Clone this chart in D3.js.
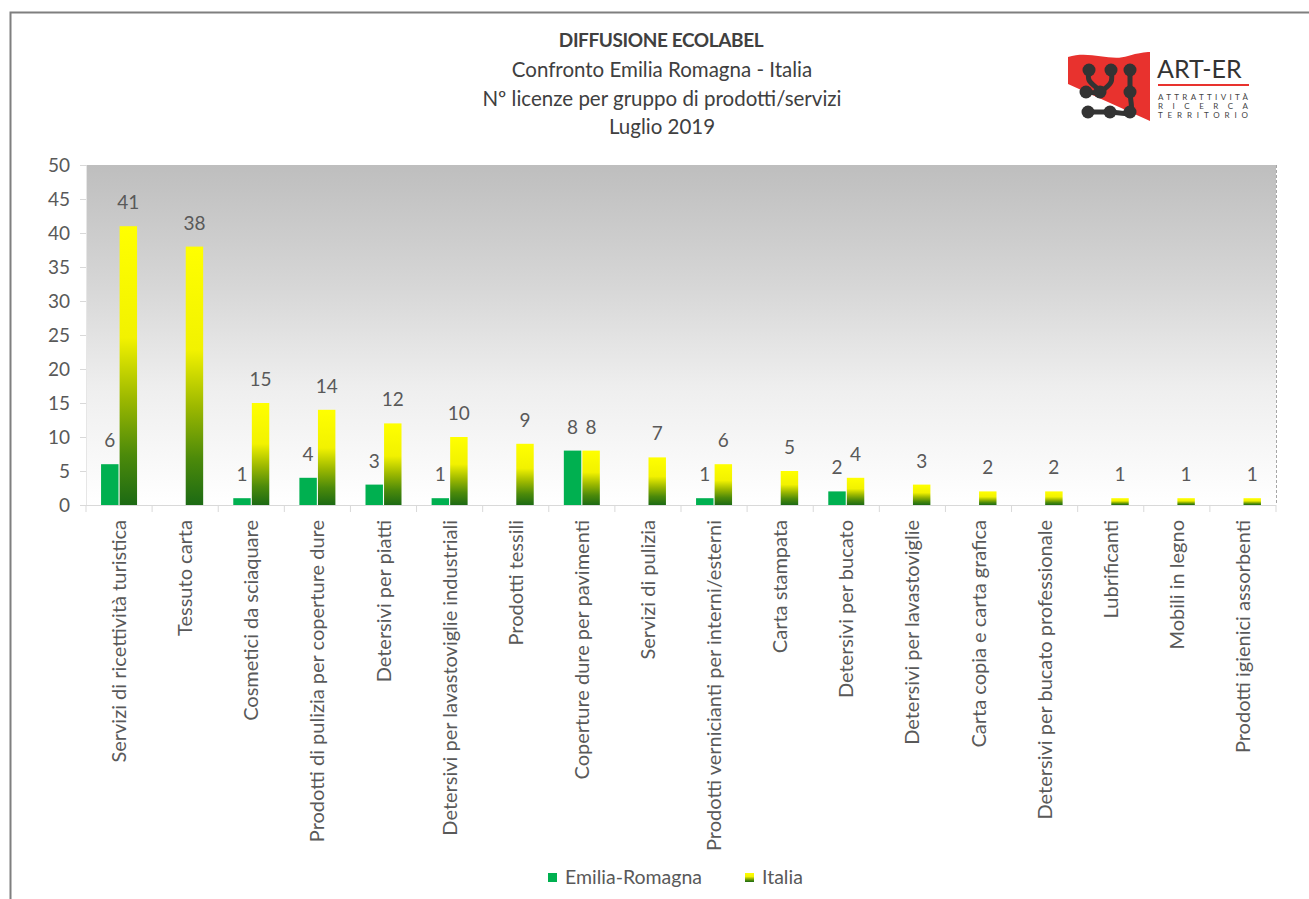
<!DOCTYPE html>
<html>
<head>
<meta charset="utf-8">
<script src="https://cdn.jsdelivr.net/npm/d3@7"></script>
<style>
  body { margin: 0; background: #fff; }
  svg text { font-family: Lato, "Noto Sans", sans-serif; }
</style>
</head>
<body>
<div class="chart"></div>
<script>
// chart values
var categories = [
  "Servizi di ricettività turistica",
  "Tessuto carta",
  "Cosmetici da sciaquare",
  "Prodotti di pulizia per coperture dure",
  "Detersivi per piatti",
  "Detersivi per lavastoviglie industriali",
  "Prodotti tessili",
  "Coperture dure per pavimenti",
  "Servizi di pulizia",
  "Prodotti vernicianti per interni/esterni",
  "Carta stampata",
  "Detersivi per bucato",
  "Detersivi per lavastoviglie",
  "Carta copia e carta grafica",
  "Detersivi per bucato professionale",
  "Lubrificanti",
  "Mobili in legno",
  "Prodotti igienici assorbenti"
];
var emiliaRomagna = [6, null, 1, 4, 3, 1, null, 8, null, 1, null, 2, null, null, null, null, null, null];
var italia = [41, 38, 15, 14, 12, 10, 9, 8, 7, 6, 5, 4, 3, 2, 2, 1, 1, 1];
var seriesNames = ["Emilia-Romagna", "Italia"];
var yTicks = [0, 5, 10, 15, 20, 25, 30, 35, 40, 45, 50];
var titleLines = ["Confronto Emilia Romagna - Italia", "N\u00ba licenze per gruppo di prodotti/servizi", "Luglio 2019"];

var svgWidth = 1309;
var svgHeight = 899;
var margin = { top: 165, right: 33, bottom: 394, left: 86 };
var width = svgWidth - margin.left - margin.right;
var height = svgHeight - margin.top - margin.bottom;

var svg = d3.select(".chart")
  .append("svg")
  .attr("width", svgWidth)
  .attr("height", svgHeight);

var defs = svg.append("defs");

// plot background: grey on top fading to white
var bg = defs.append("linearGradient")
  .attr("id", "bgGrad").attr("x1", 0).attr("y1", 0).attr("x2", 0).attr("y2", 1);
bg.append("stop").attr("offset", 0).attr("stop-color", "#bebebe");
bg.append("stop").attr("offset", 0.35).attr("stop-color", "#d6d6d6");
bg.append("stop").attr("offset", 0.65).attr("stop-color", "#eeeeee");
bg.append("stop").attr("offset", 1).attr("stop-color", "#ffffff");

// Italia bars: yellow top to dark green bottom
var ig = defs.append("linearGradient")
  .attr("id", "itGrad").attr("x1", 0).attr("y1", 0).attr("x2", 0).attr("y2", 1);
ig.append("stop").attr("offset", 0).attr("stop-color", "#ffff00");
ig.append("stop").attr("offset", 0.4).attr("stop-color", "#f2f200");
ig.append("stop").attr("offset", 0.62).attr("stop-color", "#9cb800");
ig.append("stop").attr("offset", 0.82).attr("stop-color", "#4c8a0a");
ig.append("stop").attr("offset", 1).attr("stop-color", "#1c6a14");

var colors = { "Emilia-Romagna": "#00b050", "Italia": "url(#itGrad)" };

// frame
svg.append("path")
  .attr("d", "M10.5," + svgHeight + " V12.5 H" + svgWidth)
  .attr("fill", "none")
  .attr("stroke", "#7f7f7f")
  .attr("stroke-width", 2);

// titles
svg.append("text")
  .attr("x", 661).attr("y", 47)
  .attr("text-anchor", "middle")
  .attr("font-size", 19).attr("font-weight", "bold")
  .attr("letter-spacing", -0.4)
  .attr("fill", "#404040")
  .text("DIFFUSIONE ECOLABEL");
svg.selectAll(".subtitle")
  .data(titleLines)
  .enter().append("text")
  .attr("class", "subtitle")
  .attr("x", 662)
  .attr("y", (d, i) => 77 + i * 28.5)
  .attr("text-anchor", "middle")
  .attr("font-size", 20.5)
  .attr("fill", "#404040")
  .text(d => d);

// logo
var logo = svg.append("g").attr("class", "logo");
logo.append("path")
  .attr("d", "M1068,57 C1090,50 1110,62 1128,56 C1138,53 1145,52 1150,52 L1150,121 L1068,84 Z")
  .attr("fill", "#e8322e");
var dotLinks = [
  [[1089, 70], [1089, 80], [1100, 92], [1086, 92]],
  [[1111, 70], [1111, 82], [1100, 92]],
  [[1130, 70], [1130, 92], [1130, 112], [1110, 112], [1088, 112]]
];
dotLinks.forEach(function(pts) {
  logo.append("path")
    .attr("d", d3.line().curve(d3.curveCatmullRom)(pts))
    .attr("fill", "none").attr("stroke", "#333").attr("stroke-width", 5).attr("stroke-linecap", "round");
});
var dots = [[1089, 70], [1111, 70], [1130, 70], [1086, 92], [1100, 92], [1130, 92], [1088, 112], [1110, 112], [1130, 112]];
logo.selectAll("circle").data(dots).enter().append("circle")
  .attr("cx", d => d[0]).attr("cy", d => d[1]).attr("r", 6.5).attr("fill", "#333");
logo.append("text").attr("x", 1157).attr("y", 78)
  .attr("font-size", 25).attr("fill", "#333").attr("font-family", "Roboto, sans-serif")
  .text("ART-ER");
logo.append("line").attr("x1", 1158).attr("x2", 1249).attr("y1", 85).attr("y2", 85)
  .attr("stroke", "#e8322e").attr("stroke-width", 2);
["ATTRATTIVITÀ", "RICERCA", "TERRITORIO"].forEach(function(w, i) {
  logo.append("text").attr("x", 1158).attr("y", 100 + i * 9)
    .attr("font-size", 8).attr("fill", "#444")
    .attr("textLength", 90).attr("lengthAdjust", "spacing")
    .text(w);
});

var chartGroup = svg.append("g")
  .attr("transform", `translate(${margin.left}, ${margin.top})`);

var x0 = d3.scaleBand().domain(categories).range([0, width]);
var x1 = d3.scaleBand().domain(seriesNames)
  .range([x0.bandwidth() / 2 - 18, x0.bandwidth() / 2 + 18])
  .paddingInner(0.06);
var y = d3.scaleLinear().domain([0, 50]).range([height, 0]);

chartGroup.append("rect")
  .attr("width", width).attr("height", height)
  .attr("fill", "url(#bgGrad)");
chartGroup.append("line")
  .attr("x1", width + 0.5).attr("x2", width + 0.5)
  .attr("y1", 0).attr("y2", height)
  .attr("stroke", "#a6a6a6").attr("stroke-dasharray", "3,2");

// y axis
var yAxis = d3.axisLeft(y).tickValues(yTicks).tickSize(6).tickPadding(10);
var yg = chartGroup.append("g").call(yAxis);
yg.select(".domain").attr("stroke", "#e6e6e6");
yg.selectAll(".tick line").attr("stroke", "#d9d9d9");
yg.selectAll(".tick text").attr("font-size", 19).attr("fill", "#595959")
  .attr("font-family", "Lato, sans-serif");

// x axis
var xg = chartGroup.append("g").attr("transform", `translate(0, ${height})`);
xg.append("line").attr("x1", 0).attr("x2", width).attr("y1", 0.5).attr("y2", 0.5)
  .attr("stroke", "#d9d9d9");
xg.selectAll(".xtick")
  .data(categories.concat(["__end"]))
  .enter().append("line")
  .attr("class", "xtick")
  .attr("x1", d => d === "__end" ? width : x0(d))
  .attr("x2", d => d === "__end" ? width : x0(d))
  .attr("y1", 0).attr("y2", 7)
  .attr("stroke", "#d9d9d9");
xg.selectAll(".xlabel")
  .data(categories)
  .enter().append("text")
  .attr("class", "xlabel")
  .attr("transform", d => `translate(${x0(d) + x0.bandwidth() / 2 + 7}, 15) rotate(-90)`)
  .attr("text-anchor", "end")
  .attr("font-size", 20)
  .attr("fill", "#595959")
  .text(d => d);

// bars
var rows = categories.map(function(c, i) {
  return { cat: c, values: [
    { key: "Emilia-Romagna", value: emiliaRomagna[i] },
    { key: "Italia", value: italia[i] }
  ] };
});

var groups = chartGroup.selectAll(".grp")
  .data(rows)
  .enter().append("g")
  .attr("class", "grp")
  .attr("transform", d => `translate(${x0(d.cat)}, 0)`);

var cells = groups.selectAll(".cell")
  .data(d => d.values.filter(v => v.value != null))
  .enter();

cells.append("rect")
  .attr("x", d => x1(d.key))
  .attr("width", x1.bandwidth())
  .attr("y", d => y(d.value))
  .attr("height", d => y(0) - y(d.value))
  .attr("fill", d => colors[d.key]);

cells.append("text")
  .attr("x", d => x1(d.key) + x1.bandwidth() / 2)
  .attr("y", d => y(d.value) - 17)
  .attr("text-anchor", "middle")
  .attr("font-size", 19)
  .attr("fill", "#595959")
  .text(d => d.value);

// legend
var legend = svg.append("g").attr("class", "legend");
var legendX = [548, 745];
seriesNames.forEach(function(name, i) {
  legend.append("rect")
    .attr("x", legendX[i]).attr("y", 873)
    .attr("width", 9).attr("height", 9)
    .attr("fill", colors[name]);
  legend.append("text")
    .attr("x", legendX[i] + 17).attr("y", 884)
    .attr("font-size", 19.5).attr("fill", "#595959")
    .text(name);
});
</script>
</body>
</html>
